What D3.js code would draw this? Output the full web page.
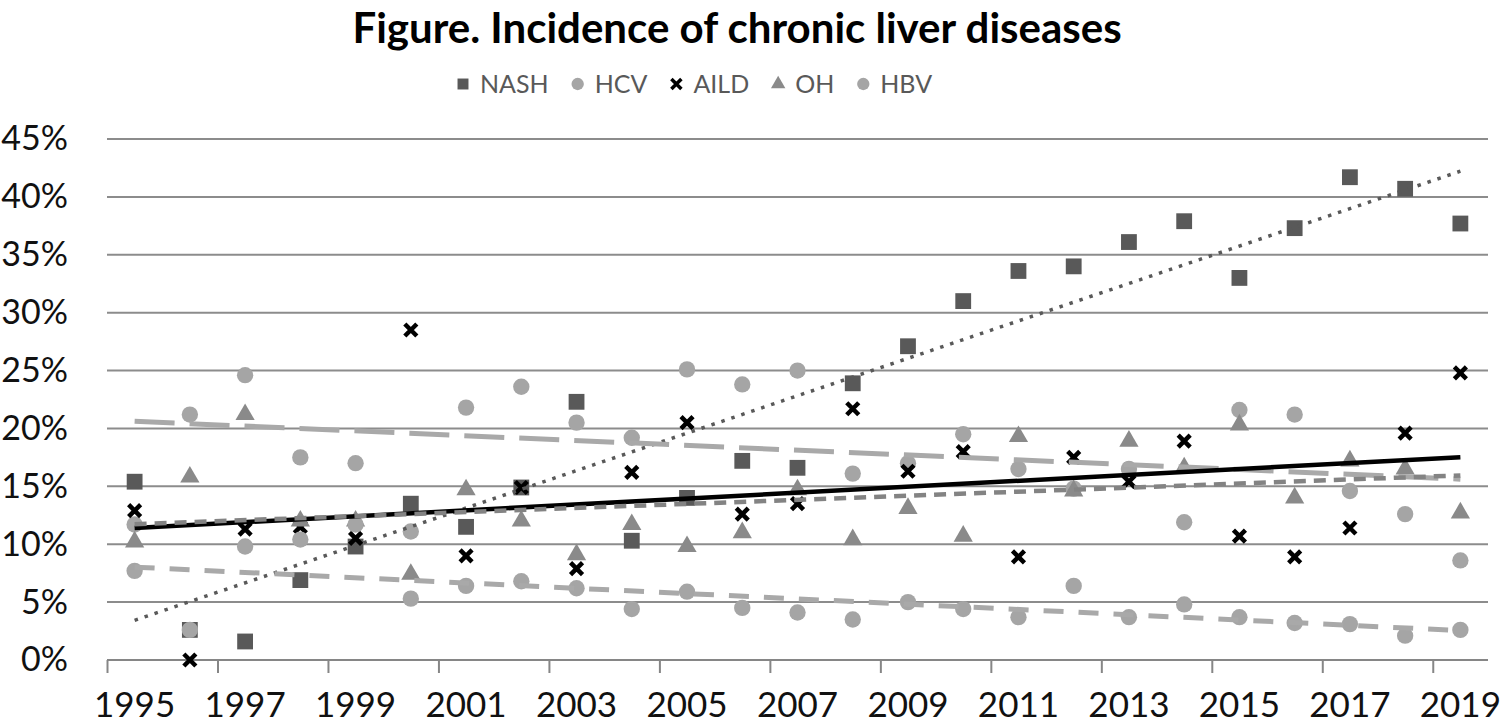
<!DOCTYPE html>
<html>
<head>
<meta charset="utf-8">
<script src="https://cdn.jsdelivr.net/npm/d3@7"></script>
<style>
  body { margin: 0; background: #fff; }
  svg { display: block; }
</style>
</head>
<body>
<div id="chart"></div>
<script>
const width = 1500;
const height = 726;

// categories
const years = [1995, 1996, 1997, 1998, 1999, 2000, 2001, 2002, 2003, 2004, 2005, 2006,
  2007, 2008, 2009, 2010, 2011, 2012, 2013, 2014, 2015, 2016, 2017, 2018, 2019];
const yearLabels = [1995, 1997, 1999, 2001, 2003, 2005, 2007, 2009, 2011, 2013, 2015, 2017, 2019];
const yTicks = [0, 5, 10, 15, 20, 25, 30, 35, 40, 45];

// series values (%)
const nash = [15.4, 2.6, 1.6, 6.9, 9.8, 13.5, 11.5, 14.9, 22.3, 10.3, 14.0, 17.2, 16.6,
  23.9, 27.1, 31.0, 33.6, 34.0, 36.1, 37.9, 33.0, 37.3, 41.7, 40.7, 37.7];
const hcv = [11.7, 21.2, 24.6, 17.5, 17.0, 11.1, 21.8, 23.6, 20.5, 19.2, 25.1, 23.8, 25.0,
  16.1, 17.0, 19.5, 16.5, 14.8, 16.5, 11.9, 21.6, 21.2, 14.6, 12.6, 8.6];
const aild = [12.9, 0.0, 11.3, 11.5, 10.5, 28.5, 9.0, 14.9, 7.9, 16.2, 20.5, 12.6, 13.5,
  21.7, 16.3, 18.0, 8.9, 17.5, 15.4, 18.9, 10.7, 8.9, 11.4, 19.6, 24.8];
const oh = [10.2, 15.8, 21.2, 12.0, 12.0, 7.4, 14.7, 12.0, 9.1, 11.7, 9.8, 11.0, 14.7,
  10.4, 13.1, 10.7, 19.3, 14.6, 18.9, 16.6, 20.3, 14.0, 17.2, 16.5, 12.7];
const hbv = [7.7, 2.6, 9.8, 10.4, 11.7, 5.3, 6.4, 6.8, 6.2, 4.4, 5.9, 4.5, 4.1,
  3.5, 5.0, 4.4, 3.7, 6.4, 3.7, 4.8, 3.7, 3.2, 3.1, 2.1, 2.6];

const series = [
  { name: "NASH", values: nash, shape: "square", color: "#595959",
    trend: { color: "#595959", width: 3.5, dash: "3.5,7" } },
  { name: "HCV", values: hcv, shape: "circle", color: "#a5a5a5",
    trend: { color: "#a9a9a9", width: 5, dash: "40,15" } },
  { name: "AILD", values: aild, shape: "x", color: "#000000",
    trend: { color: "#000000", width: 4.5, dash: null } },
  { name: "OH", values: oh, shape: "triangle", color: "#8a8a8a",
    trend: { color: "#838383", width: 4.5, dash: "12,8" } },
  { name: "HBV", values: hbv, shape: "circle", color: "#a5a5a5",
    trend: { color: "#a9a9a9", width: 5, dash: "20,15" } }
];

const svg = d3.select("#chart").append("svg")
  .attr("width", width)
  .attr("height", height);

svg.append("rect").attr("width", width).attr("height", height).attr("fill", "#fff");

const plotLeft = 107, plotRight = 1488, plotTop = 139, plotBottom = 660;

const xScale = d3.scaleLinear().domain([1994.5, 2019.5]).range([plotLeft, plotRight]);
const yScale = d3.scaleLinear().domain([0, 45]).range([plotBottom, plotTop]);

const font = "Lato, 'Open Sans', sans-serif";

// title
svg.append("text")
  .attr("x", 737)
  .attr("y", 43)
  .attr("text-anchor", "middle")
  .style("font-family", font)
  .style("font-weight", "bold")
  .style("font-size", "42px")
  .attr("fill", "#000")
  .text("Figure. Incidence of chronic liver diseases");

// gridlines
svg.append("g")
  .selectAll("line")
  .data(yTicks.filter(d => d > 0))
  .enter()
  .append("line")
  .attr("x1", plotLeft)
  .attr("x2", plotRight)
  .attr("y1", d => yScale(d))
  .attr("y2", d => yScale(d))
  .attr("stroke", "#8c8c8c")
  .attr("stroke-width", 2);

// y axis labels
const yAxis = d3.axisLeft(yScale)
  .tickValues(yTicks)
  .tickSize(0)
  .tickPadding(0)
  .tickFormat(d => d + "%");
const yG = svg.append("g")
  .attr("transform", "translate(68,0)")
  .call(yAxis);
yG.select(".domain").remove();
yG.selectAll("text")
  .style("font-family", font)
  .style("font-size", "34px")
  .attr("fill", "#111");

// x axis: tick marks between categories, labels on category centres
const xAxis = d3.axisBottom(xScale)
  .tickValues(d3.range(1994.5, 2019, 2))
  .tickSize(13)
  .tickFormat("");
const xG = svg.append("g")
  .attr("transform", "translate(0," + plotBottom + ")")
  .call(xAxis);
xG.select(".domain")
  .attr("d", "M" + plotLeft + ",0H" + plotRight)
  .attr("stroke", "#868686")
  .attr("stroke-width", 2);
xG.selectAll(".tick line").attr("stroke", "#868686").attr("stroke-width", 2);

svg.append("g")
  .selectAll("text")
  .data(yearLabels)
  .enter()
  .append("text")
  .attr("x", d => xScale(d))
  .attr("y", 717)
  .attr("text-anchor", "middle")
  .style("font-family", font)
  .style("font-size", "35px")
  .attr("fill", "#111")
  .text(d => d);

// marker shapes
function markerPath(shape) {
  if (shape === "square") return d3.symbol(d3.symbolSquare, 250)();
  if (shape === "circle") return d3.symbol(d3.symbolCircle, 210)();
  if (shape === "triangle") return d3.symbol(d3.symbolTriangle, 160)();
  return "M-6,-6L6,6M-6,6L6,-6";
}

function styleMarker(sel, s) {
  if (s.shape === "x") {
    sel.attr("fill", "none").attr("stroke", s.color).attr("stroke-width", 4.5);
  } else {
    sel.attr("fill", s.color);
  }
}

// points
series.forEach(s => {
  const pts = years.map((yr, i) => ({ yr: yr, v: s.values[i] }));
  const g = svg.append("g").attr("class", "series-" + s.name);
  const p = g.selectAll("path")
    .data(pts)
    .enter()
    .append("path")
    .attr("d", markerPath(s.shape))
    .attr("transform", d => "translate(" + xScale(d.yr) + "," + yScale(d.v) + ")");
  styleMarker(p, s);
});

// linear trend lines (least squares)
series.forEach(s => {
  const mx = d3.mean(years);
  const my = d3.mean(s.values);
  const sxy = d3.sum(years, (yr, i) => (yr - mx) * (s.values[i] - my));
  const sxx = d3.sum(years, yr => (yr - mx) * (yr - mx));
  const slope = sxy / sxx;
  const fit = yr => my + slope * (yr - mx);
  const ends = [years[0], years[years.length - 1]];
  const line = svg.append("line")
    .attr("x1", xScale(ends[0]))
    .attr("y1", yScale(fit(ends[0])))
    .attr("x2", xScale(ends[1]))
    .attr("y2", yScale(fit(ends[1])))
    .attr("stroke", s.trend.color)
    .attr("stroke-width", s.trend.width);
  if (s.trend.dash) line.attr("stroke-dasharray", s.trend.dash);
});

// legend
const legend = svg.append("g").attr("transform", "translate(0,84)");
let lx = 463;
series.forEach(s => {
  const m = legend.append("path")
    .attr("d", s.shape === "x" ? "M-5,-5L5,5M-5,5L5,-5" :
      d3.symbol(s.shape === "square" ? d3.symbolSquare :
        s.shape === "circle" ? d3.symbolCircle : d3.symbolTriangle,
        s.shape === "triangle" ? 90 : 120)())
    .attr("transform", "translate(" + lx + ",0)");
  styleMarker(m, s);
  if (s.shape === "x") m.attr("stroke-width", 3.5);
  const t = legend.append("text")
    .attr("x", lx + 17)
    .attr("y", 9)
    .style("font-family", font)
    .style("font-size", "25px")
    .attr("fill", "#595959")
    .text(s.name);
  lx = lx + 17 + t.node().getComputedTextLength() + 29;
});
</script>
</body>
</html>
